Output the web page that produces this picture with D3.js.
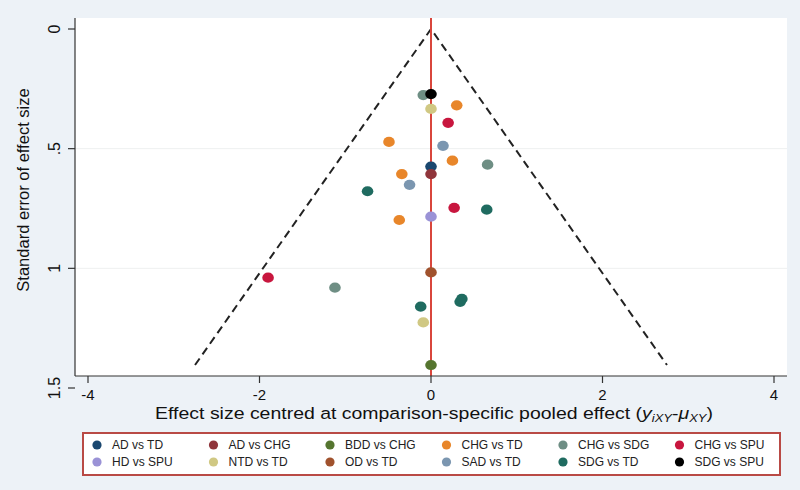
<!DOCTYPE html>
<html><head><meta charset="utf-8">
<script src="https://cdn.jsdelivr.net/npm/d3@7"></script>
<style>body{margin:0;background:#edf2f7;}svg{display:block;font-family:"Liberation Sans",Arial,sans-serif;}</style>
</head><body><svg id="c" width="800" height="490"></svg>
<script>
// ---- data ----
const groups = ["AD vs TD","AD vs CHG","BDD vs CHG","CHG vs TD","CHG vs SDG","CHG vs SPU",
                "HD vs SPU","NTD vs TD","OD vs TD","SAD vs TD","SDG vs TD","SDG vs SPU"];
const groupColors = ["#1a476f","#90353b","#55752f","#e8862a","#6e8e84","#c8163e",
                     "#9a92d6","#d0c883","#a0522d","#7b96b0","#1f6b60","#000000"];
const pointGroup = ["AD vs TD","AD vs CHG","BDD vs CHG",
  "CHG vs TD","CHG vs TD","CHG vs TD","CHG vs TD","CHG vs TD",
  "CHG vs SDG","CHG vs SDG","CHG vs SDG",
  "CHG vs SPU","CHG vs SPU","CHG vs SPU",
  "HD vs SPU","NTD vs TD","NTD vs TD","OD vs TD","SAD vs TD","SAD vs TD",
  "SDG vs TD","SDG vs TD","SDG vs TD","SDG vs TD","SDG vs TD","SDG vs SPU"];
const effect = [0.00, 0.00, 0.00,
  0.30, -0.49, 0.25, -0.34, -0.37,
  -0.09, 0.66, -1.12,
  0.20, 0.27, -1.90,
  0.00, 0.00, -0.09, 0.00, 0.14, -0.25,
  -0.74, 0.65, 0.34, 0.36, -0.12, 0.00];
const stdErr = [0.575, 0.606, 1.404,
  0.319, 0.472, 0.550, 0.606, 0.798,
  0.276, 0.567, 1.081,
  0.392, 0.747, 1.039,
  0.784, 0.334, 1.226, 1.017, 0.488, 0.651,
  0.678, 0.755, 1.140, 1.128, 1.160, 0.272];
const xTicks = [-4, -2, 0, 2, 4];
const yTicks = [0, 0.5, 1, 1.5];
const yTickLabels = ["0", ".5", "1", "1.5"];

// ---- layout ----
const svg = d3.select("#c");
const plot = {left: 75, right: 787, top: 18, bottom: 376};
const x = d3.scaleLinear().domain([-4, 4]).range([88, 774]);
const y = d3.scaleLinear().domain([0, 1.5]).range([29, 388]);
const color = d3.scaleOrdinal().domain(groups).range(groupColors);

svg.append("rect").attr("width", 800).attr("height", 490).attr("fill", "#edf2f7");
svg.append("rect").attr("x", plot.left).attr("y", plot.top)
  .attr("width", plot.right - plot.left).attr("height", plot.bottom - plot.top).attr("fill", "#fff");

// gridlines
svg.append("g").selectAll("line").data([0.5, 1]).join("line")
  .attr("x1", plot.left).attr("x2", plot.right)
  .attr("y1", d => y(d)).attr("y2", d => y(d))
  .attr("stroke", "#eef0f0").attr("stroke-width", 1);

// funnel
const seMax = d3.max(stdErr);
const funnel = [[-1.96 * seMax, seMax], [0, 0], [1.96 * seMax, seMax]];
svg.append("path").datum(funnel)
  .attr("d", d3.line().x(d => x(d[0])).y(d => y(d[1])))
  .attr("fill", "none").attr("stroke", "#222").attr("stroke-width", 2)
  .attr("stroke-dasharray", "8,5");

// red reference line
svg.append("line").attr("x1", x(0)).attr("x2", x(0))
  .attr("y1", plot.top).attr("y2", plot.bottom)
  .attr("stroke", "#d9463c").attr("stroke-width", 2);

// points
const pts = effect.map((e, i) => ({e, se: stdErr[i], g: pointGroup[i]}))
  .sort((a, b) => groups.indexOf(a.g) - groups.indexOf(b.g));
svg.append("g").selectAll("ellipse").data(pts).join("ellipse")
  .attr("cx", d => x(d.e)).attr("cy", d => y(d.se))
  .attr("rx", 5.8).attr("ry", 5.1)
  .attr("fill", d => color(d.g));

// axes
const ax = svg.append("g").attr("stroke", "#333").attr("stroke-width", 1.2);
ax.append("line").attr("x1", plot.left).attr("x2", plot.left).attr("y1", plot.top).attr("y2", plot.bottom);
ax.append("line").attr("x1", plot.left).attr("x2", plot.right).attr("y1", plot.bottom).attr("y2", plot.bottom);
ax.selectAll(".yt").data(yTicks).join("line")
  .attr("x1", plot.left - 7).attr("x2", plot.left)
  .attr("y1", d => y(d)).attr("y2", d => y(d));
ax.selectAll(".xt").data(xTicks).join("line")
  .attr("x1", d => x(d)).attr("x2", d => x(d))
  .attr("y1", plot.bottom).attr("y2", plot.bottom + 7);

svg.append("g").selectAll("text").data(yTicks).join("text")
  .attr("transform", d => `translate(60,${y(d)}) rotate(-90)`)
  .attr("text-anchor", "middle").attr("font-size", 16).attr("fill", "#111")
  .text((d, i) => yTickLabels[i]);
svg.append("g").selectAll("text").data(xTicks).join("text")
  .attr("x", d => x(d)).attr("y", 400)
  .attr("text-anchor", "middle").attr("font-size", 15).attr("fill", "#111")
  .text(d => d);

svg.append("text").attr("transform", "translate(29,190) rotate(-90)")
  .attr("text-anchor", "middle").attr("font-size", 16.5).attr("fill", "#111")
  .text("Standard error of effect size");

const xt = svg.append("text").attr("transform", "translate(434,419) scale(1.18,1)")
  .attr("text-anchor", "middle").attr("font-size", 16.5).attr("fill", "#111");
xt.append("tspan").text("Effect size centred at comparison-specific pooled effect (");
xt.append("tspan").attr("font-style", "italic").text("y");
xt.append("tspan").attr("font-style", "italic").attr("font-size", 11).attr("dy", 3).text("iXY");
xt.append("tspan").attr("dy", -3).text("-");
xt.append("tspan").attr("font-style", "italic").text("μ");
xt.append("tspan").attr("font-style", "italic").attr("font-size", 11).attr("dy", 3).text("XY");
xt.append("tspan").attr("dy", -3).text(")");

// legend
svg.append("rect").attr("x", 83).attr("y", 433).attr("width", 697).attr("height", 42)
  .attr("fill", "#fff").attr("stroke", "#b94a45").attr("stroke-width", 2);
const lg = svg.append("g").selectAll("g").data(groups).join("g")
  .attr("transform", (d, i) => `translate(${97 + (i % 6) * 116.5},${i < 6 ? 445 : 462})`);
lg.append("circle").attr("r", 4.6).attr("fill", d => color(d));
lg.append("text").attr("x", 15).attr("y", 4.3).attr("font-size", 12).attr("fill", "#222").text(d => d);
</script></body></html>
